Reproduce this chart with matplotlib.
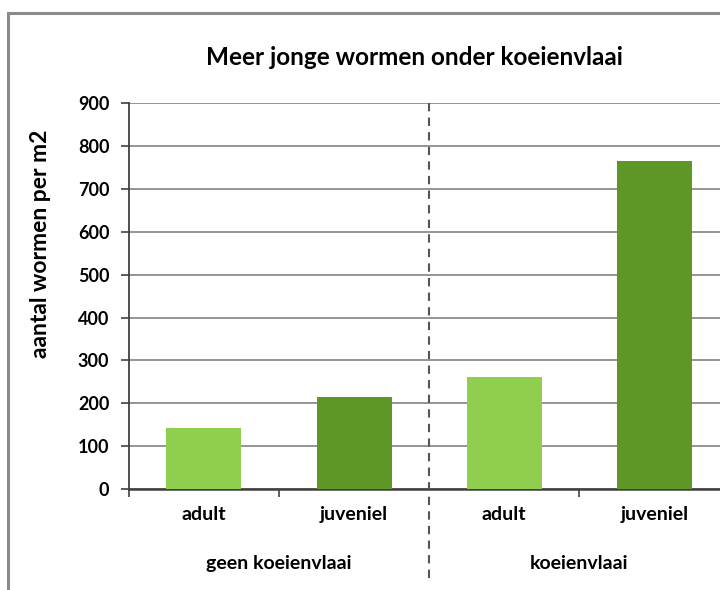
import matplotlib.pyplot as plt
from matplotlib.patches import Rectangle
from matplotlib.ticker import FixedLocator

# worm counts per m2, per group and age class
groups = ["geen koeienvlaai", "koeienvlaai"]
stages = ["adult", "juveniel", "adult", "juveniel"]
counts = [142, 214, 261, 765]
bar_colors = ["#8fce4f", "#5f9726", "#8fce4f", "#5f9726"]
y_ticks = [0, 100, 200, 300, 400, 500, 600, 700, 800, 900]

plt.rcParams["font.family"] = ["Lato", "DejaVu Sans"]
plt.rcParams["font.weight"] = "bold"

fig = plt.figure(figsize=(7.2, 5.9), dpi=100)
fig.patch.set_facecolor("white")

# grey chart-area border; only the left and top edges fall inside the image
fig.patches.append(Rectangle((0.011, -0.2), 1.5, 0.978 + 0.2,
                             transform=fig.transFigure, fill=False,
                             edgecolor="#8a8a8a", linewidth=2.2))

ax = fig.add_axes([0.179, 0.171, 0.834, 0.654])
x = list(range(len(counts)))
ax.bar(x, counts, width=0.5, color=bar_colors, zorder=3)

ax.set_ylim(0, 900)
ax.set_xlim(-0.5, 3.5)
ax.set_yticks(y_ticks)
ax.set_yticklabels([str(v) for v in y_ticks], fontsize=13, fontweight="bold")
ax.yaxis.grid(True, color="#8c8c8c", linewidth=1.3, zorder=0)
ax.set_axisbelow(True)

ax.set_xticks(x)
ax.set_xticklabels(stages, fontsize=14, fontweight="bold")
ax.tick_params(axis="x", which="major", length=0, pad=12)
ax.xaxis.set_minor_locator(FixedLocator([-0.5, 0.5, 2.5, 3.5]))
ax.tick_params(axis="x", which="minor", length=6, width=1.2, color="#404040", direction="out")
ax.tick_params(axis="y", length=6, width=1.2, color="#404040", pad=8)

for side in ["top", "right"]:
    ax.spines[side].set_visible(False)
ax.spines["left"].set_color("#404040")
ax.spines["left"].set_linewidth(1.3)
ax.spines["bottom"].set_color("#404040")
ax.spines["bottom"].set_linewidth(1.8)

# dashed separator between the two groups
ax.plot([1.5, 1.5], [900, -212], color="#555555", linewidth=1.5,
        linestyle=(0, (4, 3)), clip_on=False, zorder=4)

for i, g in enumerate(groups):
    ax.text(0.5 + 2 * i, -0.192, g, transform=ax.get_xaxis_transform(),
            ha="center", va="center", fontsize=14, fontweight="bold")

ax.set_ylabel("aantal wormen per m2", fontsize=16.5, fontweight="bold")
ax.yaxis.set_label_coords(-0.13, 0.635)
fig.text(0.576, 0.902, "Meer jonge wormen onder koeienvlaai",
         ha="center", va="center", fontsize=17.5, fontweight="bold")

fig.savefig("out.png", dpi=100)
